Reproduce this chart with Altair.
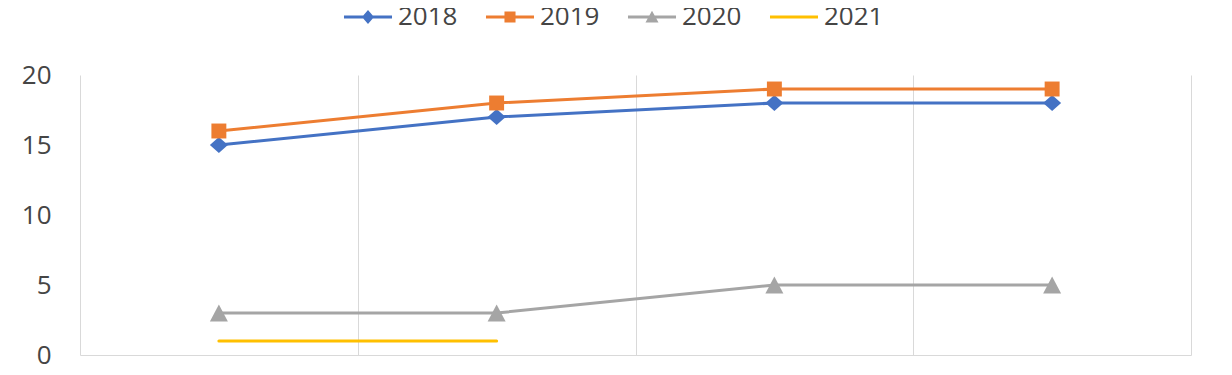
import altair as alt
import pandas as pd

# ---- data ----
positions = [1, 2, 3, 4]
series_names = ["2018", "2019", "2020", "2021"]
values_2018 = [15, 17, 18, 18]
values_2019 = [16, 18, 19, 19]
values_2020 = [3, 3, 5, 5]
values_2021 = [1, 1, None, None]
y_ticks = [0, 5, 10, 15, 20]
grid_positions = [0.5, 1.5, 2.5, 3.5, 4.5]
colors = ["#4472C4", "#ED7D31", "#A5A5A5", "#FFC000"]

rows = []
for name, vals in zip(series_names, [values_2018, values_2019, values_2020, values_2021]):
    for p, v in zip(positions, vals):
        if v is not None:
            rows.append({"pos": p, "value": v, "series": name})
df = pd.DataFrame(rows)

FONT = "Open Sans"
TEXT = "#454545"
GRID = "#D9D9D9"

# plot marker shapes (unit square paths)
marker_paths = [
    "M0,-0.9L1,0L0,0.9L-1,0Z",
    "M-0.83,-0.83H0.83V0.83H-0.83Z",
    "M0,-0.94L1,0.94H-1Z",
    "circle",
]
# legend symbols: line segment + marker
bar = "M-3.43,-0.21H3.43V0.21H-3.43Z"
legend_paths = [
    bar + "M0,-1L0.86,0L0,1L-0.86,0Z",
    bar + "M-0.79,-0.79H0.79V0.79H-0.79Z",
    bar + "M0,-0.9L0.93,0.8H-0.93Z",
    bar,
]

x_enc = alt.X(
    "pos:Q",
    title=None,
    scale=alt.Scale(domain=[0.5, 4.5], nice=False, zero=False),
    axis=alt.Axis(values=grid_positions, labels=False, ticks=False, grid=True,
                  gridColor=GRID, gridWidth=1, domain=True, domainColor=GRID,
                  domainWidth=1),
)
y_enc = alt.Y(
    "value:Q",
    title=None,
    scale=alt.Scale(domain=[0, 20], nice=False),
    axis=alt.Axis(values=y_ticks, grid=False, domain=False, ticks=False, tickSize=0,
                  labelPadding=29, labelFont=FONT, labelFontSize=26,
                  labelColor=TEXT),
)
color_scale = alt.Scale(domain=series_names, range=colors)

lines = alt.Chart(df).mark_line(strokeWidth=3, strokeCap="round", strokeJoin="round").encode(
    x=x_enc, y=y_enc,
    color=alt.Color("series:N", scale=color_scale, legend=None),
)

points = alt.Chart(df).transform_filter("datum.series != '2021'").mark_point(
    filled=True, opacity=1, strokeWidth=0, size=324
).encode(
    x=x_enc, y=y_enc,
    color=alt.Color("series:N", scale=color_scale, legend=None),
    shape=alt.Shape("series:N", scale=alt.Scale(domain=series_names, range=marker_paths), legend=None),
)

leg = alt.Legend(
    orient="none", legendX=275, legendY=-71, direction="horizontal",
    symbolSize=196, symbolStrokeWidth=0, symbolOpacity=1,
    labelFont=FONT, labelFontSize=26, labelColor=TEXT,
    labelOffset=17, columnPadding=27, padding=0,
)

legend_layer = alt.Chart(df).transform_filter("false").mark_point(
    filled=True, opacity=1, strokeWidth=0
).encode(
    x=x_enc, y=y_enc,
    color=alt.Color("series:N", title=None, scale=color_scale, legend=leg),
    shape=alt.Shape("series:N", title=None,
                    scale=alt.Scale(domain=series_names, range=legend_paths), legend=leg),
)

chart = alt.layer(lines, points, legend_layer).resolve_scale(
    color="independent", shape="independent"
).properties(
    width=1111, height=280,
    autosize=alt.AutoSizeParams(type="none"),
    padding={"left": 72, "top": 67, "right": 33, "bottom": 12},
    background="white",
).configure_view(strokeWidth=0)

chart.save("out.html", embed_options={"renderer": "svg", "actions": False})
